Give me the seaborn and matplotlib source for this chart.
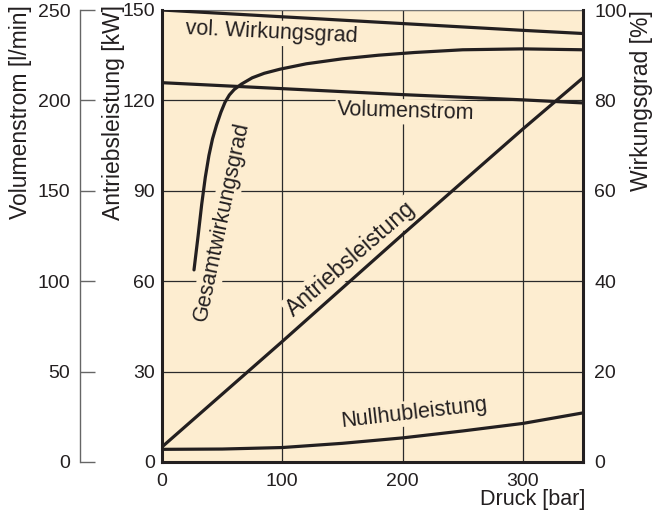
import numpy as np
import matplotlib
matplotlib.use("Agg")
import matplotlib.pyplot as plt
import seaborn as sns

# --- data ---
druck = [0, 100, 200, 300, 350]
antriebsleistung = [5.0, 40.0, 75.5, 110.5, 127.5]          # kW
volumenstrom = [209.8, 206.5, 203.2, 200.3, 198.6]          # l/min
vol_wirkungsgrad = [100.0, 98.5, 97.0, 95.5, 94.8]          # %

druck_null = [0, 50, 100, 150, 200, 250, 300, 350]
nullhubleistung = [4.2, 4.3, 4.8, 6.2, 8.0, 10.3, 12.8, 16.3]  # kW

druck_ges = [26.6, 30, 33, 36, 39, 42, 45.4, 49, 52.4, 56, 60, 66, 75, 85, 98,
             120, 150, 180, 210, 250, 300, 350]
gesamtwirkungsgrad = [42.5, 50, 57, 63, 67.8, 71.5, 74.6, 77.4, 79.6, 81.2, 82.4,
                      83.6, 85.0, 86.0, 86.9, 88.1, 89.2, 90.0, 90.6, 91.2, 91.4, 91.2]

x_ticks = [0, 100, 200, 300]
kw_ticks = [0, 30, 60, 90, 120, 150]
pct_ticks = [0, 20, 40, 60, 80, 100]
lmin_ticks = [0, 50, 100, 150, 200, 250]

sns.set_style("ticks")
plt.rcParams['font.family'] = ['Liberation Sans', 'DejaVu Sans']

bg = '#fdedd0'
ink = '#231f20'
TICK_FS = 14
LAB_FS = 15.5
AX_FS = 16.5

fig = plt.figure(figsize=(6.52, 5.19), dpi=100)
ax = fig.add_axes([162 / 652, 1 - 462 / 519, 421 / 652, 452 / 519])
ax.set_facecolor(bg)

ax_r = ax.twinx()
ax_v = ax.twinx()

# curves
sns.lineplot(x=druck, y=antriebsleistung, ax=ax, color=ink, lw=2.3)
sns.lineplot(x=druck_null, y=nullhubleistung, ax=ax, color=ink, lw=2.3)
sns.lineplot(x=druck_ges, y=gesamtwirkungsgrad, ax=ax_r, color=ink, lw=2.3)
sns.lineplot(x=druck, y=vol_wirkungsgrad, ax=ax_r, color=ink, lw=2.3)
sns.lineplot(x=druck, y=volumenstrom, ax=ax_v, color=ink, lw=2.3)
for a in (ax, ax_r, ax_v):
    for ln in a.get_lines():
        ln.set_solid_joinstyle('round')

# main axis
ax.set_xlim(0, 350)
ax.set_ylim(0, 150)
ax.set_xticks(x_ticks)
ax.set_yticks(kw_ticks)
ax.grid(True, color='#2a2a2a', lw=0.9)
ax.tick_params(axis='both', length=0, labelsize=TICK_FS, colors=ink)
ax.tick_params(axis='y', pad=5)
ax.tick_params(axis='x', pad=8)
for s in ['left', 'bottom']:
    ax.spines[s].set_linewidth(2.2)
    ax.spines[s].set_color(ink)
ax.spines['top'].set_color('#777777')
ax.spines['top'].set_linewidth(0.8)
ax.spines['right'].set_visible(False)

ax.set_xlabel('Druck [bar]', fontsize=LAB_FS, color=ink)
ax.xaxis.set_label_coords(1.005, -0.084)
ax.xaxis.label.set(ha='right', va='center')

ax.set_ylabel('Antriebsleistung [kW]', fontsize=AX_FS, color=ink)
ax.yaxis.set_label_coords(-0.116, 1.011)
ax.yaxis.label.set(ha='right', va='center', rotation_mode='anchor')

# right axis: Wirkungsgrad
ax_r.set_ylim(0, 100)
ax_r.set_yticks(pct_ticks)
ax_r.tick_params(axis='y', length=0, labelsize=TICK_FS, colors=ink, pad=8)
for s in ['left', 'top', 'bottom']:
    ax_r.spines[s].set_visible(False)
ax_r.spines['right'].set_linewidth(2.2)
ax_r.spines['right'].set_color(ink)
ax_r.set_ylabel('Wirkungsgrad [%]', fontsize=AX_FS, color=ink)
ax_r.yaxis.set_label_coords(1.138, 1.0)
ax_r.yaxis.label.set(ha='right', va='center', rotation=90, rotation_mode='anchor')

# outer left axis: Volumenstrom
ax_v.set_ylim(0, 250)
ax_v.set_yticks(lmin_ticks)
ax_v.yaxis.set_ticks_position('left')
ax_v.yaxis.set_label_position('left')
ax_v.spines['left'].set_position(('axes', -0.195))
ax_v.spines['left'].set_visible(True)
ax_v.spines['left'].set_color('#666666')
ax_v.spines['left'].set_linewidth(1.0)
for s in ['right', 'top', 'bottom']:
    ax_v.spines[s].set_visible(False)
ax_v.tick_params(axis='y', direction='in', length=11, width=1.0, color='#666666',
                 labelsize=TICK_FS, labelcolor=ink, pad=7)
ax_v.set_ylabel('Volumenstrom [l/min]', fontsize=AX_FS, color=ink)
ax_v.yaxis.set_label_coords(-0.337, 1.011)
ax_v.yaxis.label.set(ha='right', va='center', rotation_mode='anchor')

# curve labels
box = dict(facecolor=bg, edgecolor='none', pad=1.5)
lab = dict(color=ink, ha='center', va='center', bbox=box,
           rotation_mode='anchor', transform=ax.transData)
ax.text(91.4, 142.4, 'vol. Wirkungsgrad', rotation=-2.7, fontsize=LAB_FS, **lab)
ax.text(203, 116.2, 'Volumenstrom', rotation=-1.7, fontsize=LAB_FS, **lab)
ax.text(49.9, 79.7, 'Gesamtwirkungsgrad', rotation=78, fontsize=LAB_FS, **lab)
ax.text(157, 67.5, 'Antriebsleistung', rotation=41, fontsize=16.5, **lab)
ax.text(209.5, 16.3, 'Nullhubleistung', rotation=6.6, fontsize=LAB_FS, **lab)

fig.savefig('out.png', dpi=100)
